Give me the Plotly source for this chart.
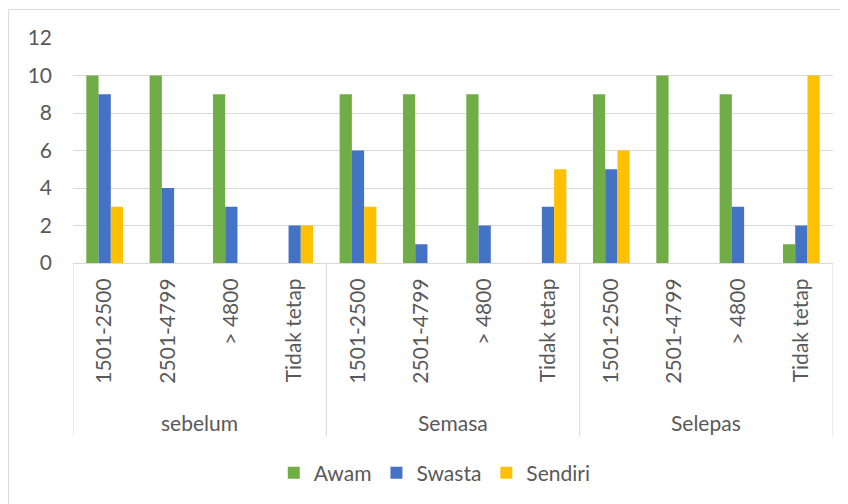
import plotly.graph_objects as go

groups = ["sebelum", "Semasa", "Selepas"]
income = ["1501-2500", "2501-4799", "> 4800", "Tidak tetap"]

awam = [10, 10, 9, 0, 9, 9, 9, 0, 9, 10, 9, 1]
swasta = [9, 4, 3, 2, 6, 1, 2, 3, 5, 0, 3, 2]
sendiri = [3, 0, 0, 2, 3, 0, 0, 5, 6, 0, 0, 10]

series = [("Awam", awam, "#70AD47"), ("Swasta", swasta, "#4472C4"), ("Sendiri", sendiri, "#FFC000")]

labels = [lab for g in groups for lab in income]
xpos = list(range(len(labels)))

FONT = "Lato"
TXT = "#595959"
GRID = "#D9D9D9"

fig = go.Figure()
for name, vals, col in series:
    fig.add_trace(go.Bar(x=xpos, y=vals, name=name, marker=dict(color=col, line=dict(width=0))))

n_in = len(income)
shapes = []
annotations = []
for gi, g in enumerate(groups):
    left = gi * n_in - 0.5
    shapes.append(dict(type="line", xref="x", yref="paper", x0=left, x1=left, y0=0, y1=-0.773,
                       line=dict(color=GRID, width=1)))
    annotations.append(dict(text=g, xref="x", yref="paper", x=gi * n_in + (n_in - 1) / 2, y=-0.71,
                            showarrow=False, yanchor="middle", font=dict(family=FONT, size=21, color=TXT)))
right = len(labels) - 0.5
shapes.append(dict(type="line", xref="x", yref="paper", x0=right, x1=right, y0=0, y1=-0.773,
                   line=dict(color=GRID, width=1)))
# chart border
shapes.append(dict(type="rect", xref="paper", yref="paper", x0=-0.0849, x1=1.03, y0=-1.15, y1=1.1267,
                   line=dict(color=GRID, width=1), fillcolor="rgba(0,0,0,0)", layer="below"))

fig.update_layout(
    width=840, height=496,
    margin=dict(l=65, r=15, t=30, b=241, autoexpand=False),
    paper_bgcolor="white", plot_bgcolor="white",
    barmode="group", bargap=0.42, bargroupgap=0,
    font=dict(family=FONT, size=21, color=TXT),
    shapes=shapes, annotations=annotations,
    legend=dict(orientation="h", x=0.476, xanchor="center", yref="container", y=0.0625, yanchor="middle",
                font=dict(family=FONT, size=21, color=TXT), itemwidth=30),
    xaxis=dict(range=[-0.5, len(labels) - 0.5], tickmode="array", tickvals=xpos, ticktext=labels,
               tickangle=-90, showgrid=False, zeroline=False, showline=True, linecolor=GRID,
               automargin=False,
               ticks="", ticklabelstandoff=6, tickfont=dict(family=FONT, size=21, color=TXT)),
    yaxis=dict(range=[0, 12], dtick=2, showgrid=True, gridcolor=GRID, gridwidth=1, zeroline=False,
               automargin=False,
               showline=False, ticks="", ticklabelstandoff=20, tickfont=dict(family=FONT, size=21, color=TXT)),
)

fig.write_html("out.html")
